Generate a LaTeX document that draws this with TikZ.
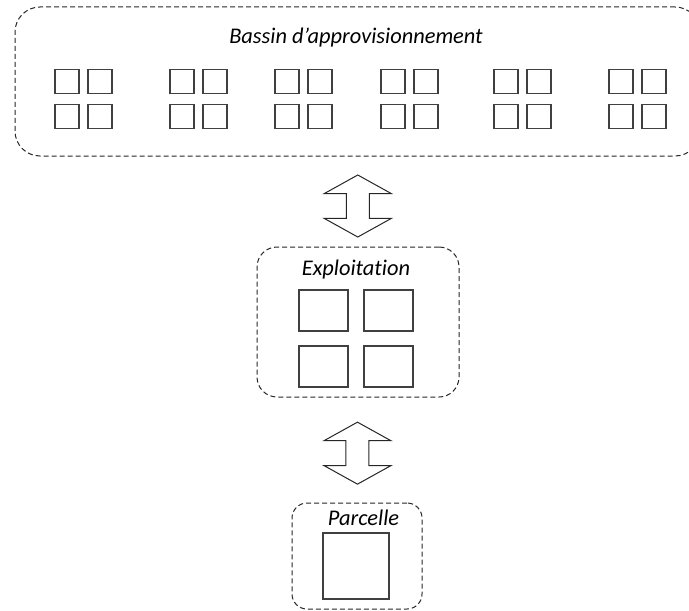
\documentclass[tikz,border=0pt]{standalone}
\usepackage{fontspec}
\setmainfont{Carlito}[Ligatures=NoCommon]
\usepackage{tikz}
\usetikzlibrary{shapes.arrows,positioning,calc}

\begin{document}
\begin{tikzpicture}[x=0.5pt, y=-0.5pt,
    every node/.style={font=\fontsize{11.2}{13}\selectfont\itshape},
    zone/.style={draw=black!85, dash pattern=on 2.5pt off 1.5pt, line width=0.5pt, inner sep=0pt},
    cell/.style={draw=black!75, line width=0.6pt, inner sep=0pt},
    link/.style={draw=black!85, line width=0.5pt, double arrow, rotate=90, minimum height=31pt,
      inner xsep=0pt, inner ysep=5.5pt, double arrow head extend=11pt, double arrow tip angle=122}]
  \useasboundingbox (0,0) rectangle (689,610);
  \clip (0,0) rectangle (689,610);
  \node[zone, rounded corners=12.5pt, minimum width=342.5pt, minimum height=74.5pt] (bassin) at (357.5,81.5) {};
  \node[anchor=base] (bassintitre) at (356,44) {Bassin d’approvisionnement};
  \foreach \g [count=\i] in {55,170,275,381,494,609}
    \foreach \dx [count=\j] in {12,45}
      \foreach \dy [count=\k] in {81.5,116.5}
        \node[cell, minimum size=12pt] (b\i\j\k) at (\g+\dx,\dy) {};

  \node[zone, rounded corners=10pt, minimum width=101pt, minimum height=75pt] (exploit) at (358,322) {};
  \node[anchor=base] (exploittitre) at (356,275) {Exploitation};
  \node[cell, minimum width=24.5pt, minimum height=20.5pt] (e11) at (323.5,310.5) {};
  \node[cell, minimum width=24.5pt, minimum height=20.5pt] (e21) at (388.5,310.5) {};
  \node[cell, minimum width=24.5pt, minimum height=20.5pt] (e12) at (323.5,366.5) {};
  \node[cell, minimum width=24.5pt, minimum height=20.5pt] (e22) at (388.5,366.5) {};

  \node[zone, rounded corners=7.5pt, minimum width=65pt, minimum height=53pt] (parcelle) at (357,556) {};
  \node[anchor=base] (parcelletitre) at (363.5,525) {Parcelle};
  \node[cell, minimum size=33pt] (p1) at (356,566) {};

  \node[link] (lien1) at ($(bassin.south)!0.55!(exploit.north)$) {};
  \node[link] (lien2) at ($(exploit.south)!0.53!(parcelle.north)$) {};
\end{tikzpicture}
\end{document}
